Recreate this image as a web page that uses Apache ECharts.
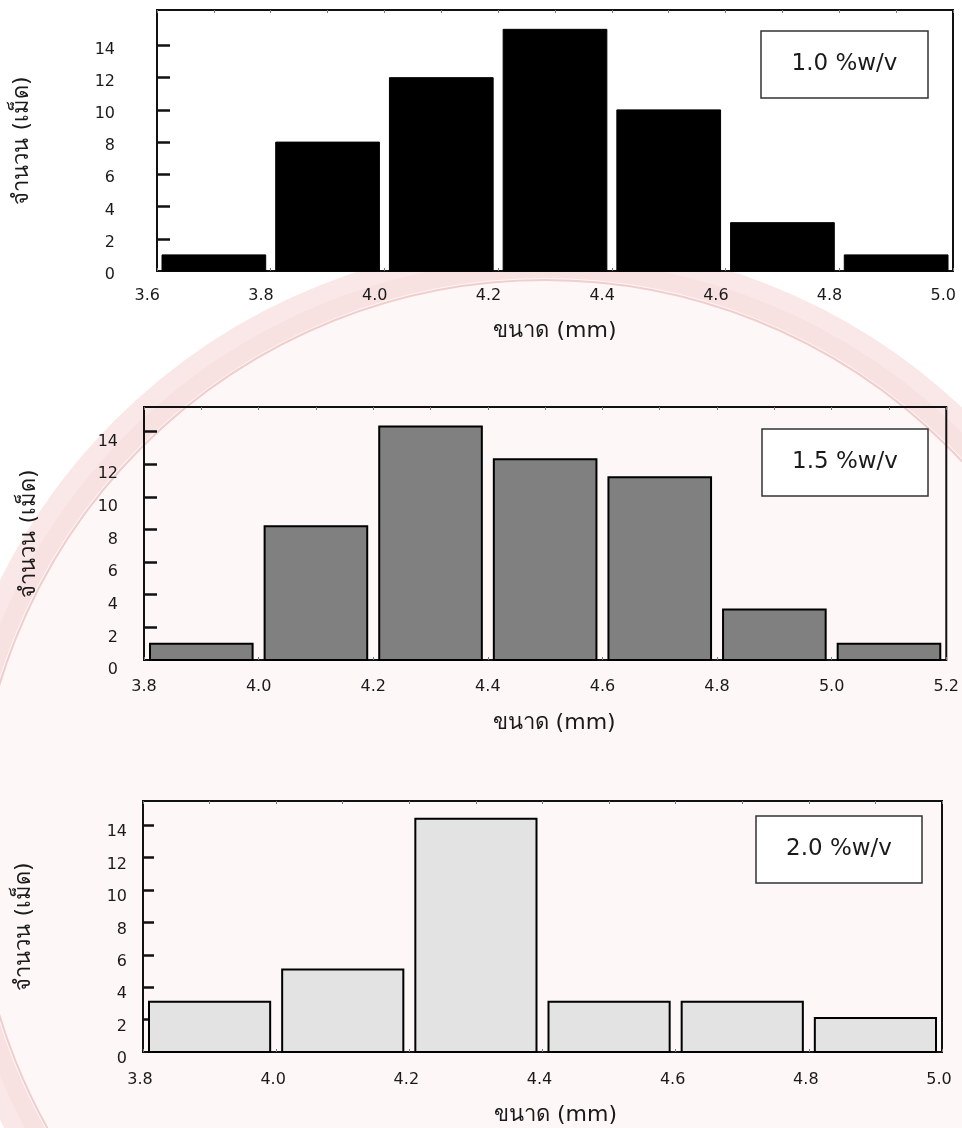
<!DOCTYPE html>
<html>
<head>
<meta charset="utf-8">
<script src="https://cdn.jsdelivr.net/npm/echarts@6/dist/echarts.min.js"></script>
<style>
  html, body { margin: 0; padding: 0; background: #fff; }
  #chart { width: 962px; height: 1128px; }
</style>
</head>
<body>
<div id="chart"></div>
<script>
// size bins (mm) and bead counts, one pair per alginate concentration
var edges10 = [3.6, 3.8, 4.0, 4.2, 4.4, 4.6, 4.8, 5.0];
var counts10 = [1, 8, 12, 15, 10, 3, 1];
var edges15 = [3.8, 4.0, 4.2, 4.4, 4.6, 4.8, 5.0, 5.2];
var counts15 = [1.0, 8.2, 14.3, 12.3, 11.2, 3.1, 1.0];
var edges20 = [3.8, 4.0, 4.2, 4.4, 4.6, 4.8, 5.0];
var counts20 = [3.1, 5.1, 14.4, 3.1, 3.1, 2.1];

var yTickValues = [0, 2, 4, 6, 8, 10, 12, 14];
var yTickMarks = [2, 4, 6, 8, 10, 12, 14];
var panelLabels = ['1.0 %w/v', '1.5 %w/v', '2.0 %w/v'];
var xTitle = 'ขนาด (mm)';
var yTitle = 'จำนวน (เม็ด)';

var FONT = "'DejaVu Sans', 'Noto Sans', sans-serif";
var TXT = '#1a1a1a';

function bins(edges, counts) {
  var out = [];
  for (var i = 0; i < counts.length; i++) out.push([edges[i], edges[i + 1], counts[i]]);
  return out;
}

function histItem(gap, fill, stroke, lw) {
  return function (params, api) {
    var p0 = api.coord([api.value(0), 0]);
    var p1 = api.coord([api.value(1), api.value(2)]);
    return {
      type: 'rect',
      shape: { x: p0[0] + gap, y: p1[1], width: p1[0] - p0[0] - 2 * gap, height: p0[1] - p1[1] },
      style: { fill: fill, stroke: stroke, lineWidth: lw }
    };
  };
}

var grids = [
  { left: 157, top: 10, width: 796, height: 261, show: true, borderColor: '#111', borderWidth: 2, backgroundColor: '#fff' },
  { left: 144, top: 407, width: 806, height: 253, show: true, borderColor: '#111', borderWidth: 2, backgroundColor: 'transparent' },
  { left: 143, top: 801, width: 799, height: 251, show: true, borderColor: '#111', borderWidth: 2, backgroundColor: 'transparent' }
];

// label offsets copied from the original figure (its tick labels sit a little below the ticks)
var panels = [
  { edges: edges10, max: 16.2, xAlign: 'right', xPad: [0, -3, 0, 0], xMargin: 17, yShift: 4, yMargin: 42, yGap: 124, xGap: 49, xTitlePad: 0 },
  { edges: edges15, max: 15.5, xAlign: 'center', xPad: [0, 0, 0, 0], xMargin: 19, yShift: 10, yMargin: 26, yGap: 104, xGap: 52, xTitlePad: 18 },
  { edges: edges20, max: 15.5, xAlign: 'center', xPad: [0, 6, 0, 0], xMargin: 20, yShift: 7, yMargin: 16, yGap: 108, xGap: 52, xTitlePad: 26 }
];

var xAxes = [], yAxes = [];
panels.forEach(function (p, i) {
  var lo = p.edges[0], hi = p.edges[p.edges.length - 1];
  xAxes.push({
    gridIndex: i, type: 'value', min: lo, max: hi, interval: 0.2, position: 'bottom',
    axisLine: { show: false },
    axisTick: { show: true, inside: true, length: 3, lineStyle: { color: '#777', width: 1 } },
    minorTick: { show: true, splitNumber: 2, length: 3, lineStyle: { color: '#777', width: 1 } },
    splitLine: { show: false },
    axisLabel: {
      fontFamily: FONT, fontSize: 16, color: TXT, margin: p.xMargin, align: p.xAlign, padding: p.xPad,
      formatter: function (v) { return v.toFixed(1); }
    },
    name: xTitle, nameLocation: 'middle', nameGap: p.xGap,
    nameTextStyle: { fontFamily: FONT, fontSize: 22, color: TXT, padding: [0, 0, 0, p.xTitlePad] }
  });
  xAxes.push({
    gridIndex: i, type: 'value', min: lo, max: hi, interval: 0.2, position: 'top',
    axisLine: { show: false },
    axisTick: { show: true, inside: true, length: 3, lineStyle: { color: '#777', width: 1 } },
    minorTick: { show: true, splitNumber: 2, length: 3, lineStyle: { color: '#777', width: 1 } },
    splitLine: { show: false },
    axisLabel: { show: false }
  });
  yAxes.push({
    gridIndex: i, type: 'value', min: 0, max: p.max, interval: 2,
    axisLine: { show: false },
    axisTick: { show: true, inside: true, length: i === 2 ? 11 : 13, customValues: yTickMarks,
      lineStyle: { color: '#111', width: 2.5 } },
    splitLine: { show: false },
    axisLabel: { customValues: yTickValues, fontFamily: FONT, fontSize: 16, color: TXT,
      margin: p.yMargin, verticalAlign: 'top', lineHeight: p.yShift * 2 },
    name: yTitle, nameLocation: 'middle', nameGap: p.yGap, nameRotate: 90,
    nameTextStyle: { fontFamily: FONT, fontSize: 22, color: TXT }
  });
});

var boxes = [
  { x: 761, y: 31, w: 167, h: 67 },
  { x: 762, y: 429, w: 166, h: 67 },
  { x: 756, y: 816, w: 166, h: 67 }
];
var graphics = [
  // faint seal watermark behind the lower panels
  { type: 'circle', z: -10, silent: true, shape: { cx: 545, cy: 850, r: 590 },
    style: { fill: 'rgba(240,190,190,0.13)', stroke: 'rgba(225,130,130,0.18)', lineWidth: 36 } },
  { type: 'circle', z: -9, silent: true, shape: { cx: 545, cy: 850, r: 570 },
    style: { fill: 'none', stroke: 'rgba(200,60,60,0.22)', lineWidth: 2 } }
];
boxes.forEach(function (b, i) {
  graphics.push({ type: 'rect', z: 20, shape: { x: b.x, y: b.y, width: b.w, height: b.h },
    style: { fill: '#fff', stroke: '#333', lineWidth: 1.5 } });
  graphics.push({ type: 'text', z: 21, x: b.x + b.w / 2, y: b.y + b.h / 2,
    style: { text: panelLabels[i], fontFamily: FONT, fontSize: 23, fill: TXT, align: 'center', verticalAlign: 'middle' } });
});

var option = {
  animation: false,
  backgroundColor: '#fff',
  grid: grids,
  xAxis: xAxes,
  yAxis: yAxes,
  graphic: graphics,
  series: [
    { type: 'custom', xAxisIndex: 0, yAxisIndex: 0, renderItem: histItem(5, '#000', '#000', 1),
      encode: { x: [0, 1], y: 2 }, data: bins(edges10, counts10) },
    { type: 'custom', xAxisIndex: 2, yAxisIndex: 1, renderItem: histItem(6, '#808080', '#000', 2),
      encode: { x: [0, 1], y: 2 }, data: bins(edges15, counts15) },
    { type: 'custom', xAxisIndex: 4, yAxisIndex: 2, renderItem: histItem(6, '#e3e3e3', '#000', 2),
      encode: { x: [0, 1], y: 2 }, data: bins(edges20, counts20) }
  ]
};

var myChart = echarts.init(document.getElementById('chart'));
myChart.setOption(option);
</script>
</body>
</html>
